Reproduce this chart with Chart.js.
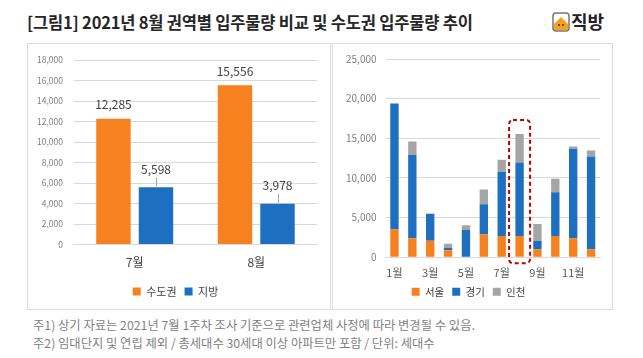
<!DOCTYPE html>
<html>
<head>
<meta charset="utf-8">
<script src="https://cdn.jsdelivr.net/npm/chart.js@4"></script>
<style>
  body { margin: 0; background: #fff; font-family: "Noto Sans CJK KR", "Noto Sans", sans-serif; }
  #wrap { position: relative; width: 643px; height: 358px; overflow: hidden; }
  #title { position: absolute; left: 27px; top: 10px; font-size: 16.5px; font-weight: bold; color: #262626; white-space: nowrap; letter-spacing: -0.2px; }
  #logo { position: absolute; left: 552px; top: 8px; font-size: 18px; font-weight: bold; color: #222; white-space: nowrap; }
  #logo svg { vertical-align: -3px; margin-right: 1px; }
  .panel { position: absolute; top: 43px; height: 265px; border: 1px solid #dcdcdc; }
  #p1 { left: 27px; width: 302px; }
  #p2 { left: 332px; width: 279px; }
  .note { position: absolute; left: 33px; font-size: 12.3px; color: #7f7f7f; white-space: nowrap; }
</style>
</head>
<body>
<div id="wrap">
  <div id="title">[그림1] 2021년 8월 권역별 입주물량 비교 및 수도권 입주물량 추이</div>
  <div id="logo"><svg width="18" height="20" viewBox="0 0 18 20"><rect x="1" y="1" width="16" height="18" rx="3" fill="none" stroke="#777" stroke-width="1.5"/><path d="M2 12 L9 5 L16 12 L16 18 L2 18 Z" fill="#f7a21b"/><circle cx="7" cy="13" r="1" fill="#333"/><circle cx="11" cy="13" r="1" fill="#333"/></svg>직방</div>
  <div class="panel" id="p1"><canvas id="regionChart"></canvas></div>
  <div class="panel" id="p2"><canvas id="trendChart"></canvas></div>
  <div class="note" style="top:316px">주1) 상기 자료는 2021년 7월 1주차 조사 기준으로 관련업체 사정에 따라 변경될 수 있음.</div>
  <div class="note" style="top:334px">주2) 임대단지 및 연립 제외 / 총세대수 30세대 이상 아파트만 포함 / 단위: 세대수</div>
</div>
<script>
// left chart data
var regionMonths = ["7월", "8월"];
var capital = [12285, 15556];
var local = [5598, 3978];

// right chart data
var months = ["1월", "2월", "3월", "4월", "5월", "6월", "7월", "8월", "9월", "10월", "11월", "12월"];
var seoul = [3500, 2400, 2100, 900, 0, 2900, 2700, 2700, 1000, 2700, 2400, 1000];
var gyeonggi = [15900, 10500, 3400, 300, 3450, 3800, 8050, 9250, 1060, 5500, 11300, 11700];
var incheon = [0, 1700, 0, 500, 600, 1850, 1535, 3606, 2150, 1700, 270, 750];

var ORANGE = "#f5821f";
var BLUE = "#1f6fc0";
var GRAY = "#a5a5a5";
var FONT = "'Noto Sans CJK KR', 'Noto Sans', sans-serif";

Chart.defaults.font.family = FONT;
Chart.defaults.color = "#595959";

var barLabels = {
    id: "barLabels",
    afterDatasetsDraw: function(chart) {
        var c = chart.ctx;
        c.save();
        c.font = "12px " + FONT;
        c.fillStyle = "#404040";
        c.textAlign = "center";
        c.textBaseline = "middle";
        chart.data.datasets.forEach(function(ds, i) {
            chart.getDatasetMeta(i).data.forEach(function(bar, j) {
                var txt = ds.data[j].toLocaleString("en-US");
                if (i == 1) {
                    c.strokeStyle = "#a6a6a6";
                    c.lineWidth = 1;
                    c.beginPath();
                    c.moveTo(Math.round(bar.x) + 0.5, bar.y - 1);
                    c.lineTo(Math.round(bar.x) + 0.5, bar.y - 10);
                    c.stroke();
                    c.fillText(txt, bar.x, bar.y - 18);
                } else {
                    c.fillText(txt, bar.x, bar.y - 14);
                }
            });
        });
        c.restore();
    }
};

var highlightBox = {
    id: "highlightBox",
    afterDatasetsDraw: function(chart) {
        var idx = 7;
        var x = chart.scales.x.getPixelForValue(idx);
        var top = chart.getDatasetMeta(2).data[idx].y - 14;
        var bottom = chart.scales.y.getPixelForValue(0) + 6;
        var w = 21;
        var c = chart.ctx;
        c.save();
        c.strokeStyle = "#c00000";
        c.lineWidth = 2;
        c.setLineDash([4, 3]);
        c.beginPath();
        c.roundRect(x - w / 2, top, w, bottom - top, 4);
        c.stroke();
        c.restore();
    }
};

var ctx = document.getElementById("regionChart").getContext("2d");
var regionChart = new Chart(ctx, {
    type: "bar",
    data: {
        labels: regionMonths,
        datasets: [
            { label: "수도권", data: capital, backgroundColor: ORANGE },
            { label: "지방", data: local, backgroundColor: BLUE }
        ]
    },
    options: {
        responsive: true,
        maintainAspectRatio: false,
        animation: false,
        datasets: { bar: { categoryPercentage: 0.7, barPercentage: 0.81 } },
        layout: { padding: { left: 6, right: 13, top: 0, bottom: 2 } },
        scales: {
            x: {
                grid: { display: false, drawTicks: false },
                border: { display: true, color: "#d9d9d9" },
                ticks: { font: { size: 12 }, color: "#404040", padding: 11 },
                afterFit: function(s) { s.height -= 3; }
            },
            y: {
                min: 0,
                max: 18000,
                ticks: { stepSize: 2000, font: { size: 8.5 }, color: "#7f7f7f", padding: 11,
                    callback: function(v) { return v.toLocaleString("en-US"); } },
                grid: { color: "#d9d9d9", drawTicks: false },
                border: { display: false },
                afterFit: function(s) { s.width -= 8; }
            }
        },
        plugins: {
            legend: {
                position: "bottom",
                labels: { boxWidth: 8, boxHeight: 8, padding: 8, font: { size: 11 }, color: "#404040" }
            },
            tooltip: { enabled: false }
        }
    },
    plugins: [barLabels]
});

var ctx2 = document.getElementById("trendChart").getContext("2d");
var trendChart = new Chart(ctx2, {
    type: "bar",
    data: {
        labels: months,
        datasets: [
            { label: "서울", data: seoul, backgroundColor: ORANGE },
            { label: "경기", data: gyeonggi, backgroundColor: BLUE },
            { label: "인천", data: incheon, backgroundColor: GRAY }
        ]
    },
    options: {
        responsive: true,
        maintainAspectRatio: false,
        animation: false,
        datasets: { bar: { categoryPercentage: 0.9, barPercentage: 0.52 } },
        layout: { padding: { left: 4, right: 12, top: 0, bottom: 2 } },
        scales: {
            x: {
                stacked: true,
                grid: { display: false, drawTicks: false },
                border: { display: true, color: "#d9d9d9" },
                ticks: { autoSkip: false, maxRotation: 0, font: { size: 11 }, color: "#595959", padding: 9,
                    callback: function(v, i) { return i % 2 == 0 ? months[i] : ""; } },
                afterFit: function(s) { s.height -= 10; }
            },
            y: {
                stacked: true,
                min: 0,
                max: 25000,
                ticks: { stepSize: 5000, font: { size: 10 }, color: "#7f7f7f", padding: 9,
                    callback: function(v) { return v.toLocaleString("en-US"); } },
                grid: { color: "#d9d9d9", drawTicks: false },
                border: { display: false }
            }
        },
        plugins: {
            legend: {
                position: "bottom",
                labels: { boxWidth: 8, boxHeight: 8, padding: 8, font: { size: 10.5 }, color: "#404040" }
            },
            tooltip: { enabled: false }
        }
    },
    plugins: [highlightBox]
});
</script>
</body>
</html>
